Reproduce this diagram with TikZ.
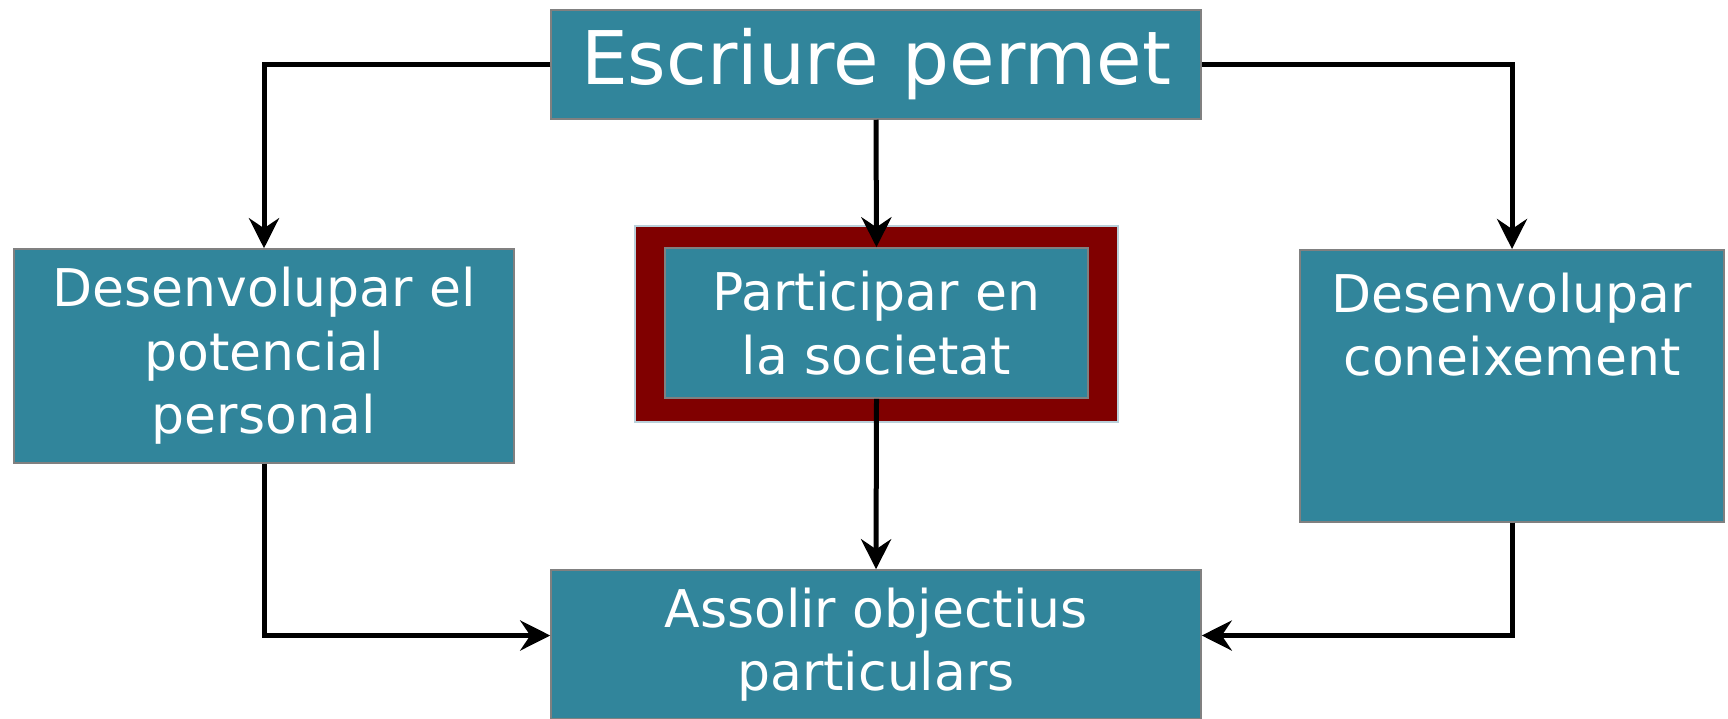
\documentclass[tikz,border=0pt]{standalone}
\usepackage{fontspec}
\setmainfont{DejaVu Sans}
\usetikzlibrary{arrows.meta}
\definecolor{tealbox}{RGB}{49,133,155}
\definecolor{darkframe}{RGB}{128,0,0}
\definecolor{frameedge}{RGB}{185,208,218}
\begin{document}
\begin{tikzpicture}[x=0.5pt,y=-0.5pt,
	box/.style={draw=gray,line width=0.75pt,fill=tealbox,text=white,align=center,inner sep=0pt,font=\fontsize{26}{31.7}\selectfont},
	link/.style={line width=2.5pt,-{Stealth[length=15pt,width=15pt,inset=5pt]}}]
	\useasboundingbox (0,0) rectangle (1728,718) ;
	\node[box,minimum width=325pt,minimum height=54.5pt,font=\fontsize{37}{44}\selectfont] (write) at (876,64.5) {Escriure permet} ;
	\node[box,minimum width=250pt,minimum height=107pt] (self) at (264,356) {Desenvolupar el\\potencial\\personal} ;
	\node[draw=frameedge,line width=0.75pt,fill=darkframe,minimum width=241.5pt,minimum height=98pt] (frame) at (876.5,324) {} ;
	\node[box,minimum width=211.5pt,minimum height=75pt] (society) at (876.5,323) {Participar en\\la societat} ;
	\node[box,minimum width=212pt,anchor=north,text height=63pt,text depth=73pt] (know) at (1512,249) {Desenvolupar\\coneixement} ;
	\node[box,minimum width=325pt,minimum height=74.5pt] (goal) at (876,644.5) {Assolir objectius\\particulars} ;
	\draw[link] (write.west) -| (self.north) ;
	\draw[link] (write.east) -| (know.north) ;
	\draw[link] (write.south) -- (society.north) ;
	\draw[link] (society.south) -- (goal.north) ;
	\draw[link] (self.south) |- ([yshift=4.5pt]goal.west) ;
	\draw[link] (know.south) |- ([yshift=4.5pt]goal.east) ;
\end{tikzpicture}
\end{document}
